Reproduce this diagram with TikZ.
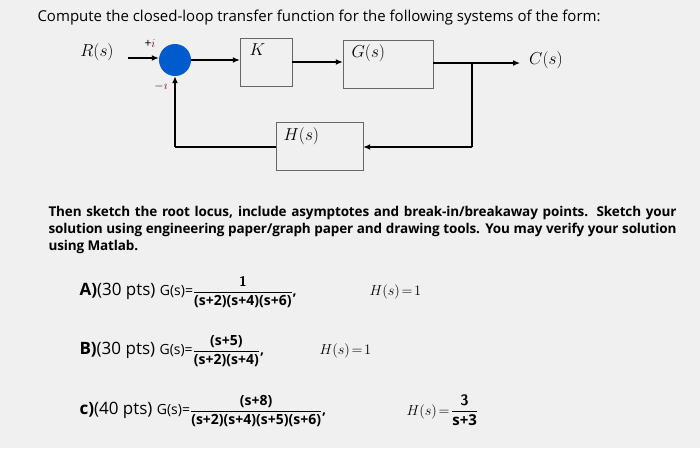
\documentclass[tikz,border=0pt]{standalone}
\usepackage{amsmath}
\usepackage{fontspec}
\setmainfont{Open Sans}
\usetikzlibrary{arrows.meta}
\begin{document}
\begin{tikzpicture}[x=1pt,y=-1pt,
 sig/.style={line width=1.3pt,-{Latex[length=7pt,width=6pt]}},
 wire/.style={line width=1.3pt},
 lbl/.style={anchor=north west,font=\fontsize{17}{19}\selectfont},
 part/.style={anchor=west,font=\fontsize{17}{19}\selectfont},
 hh/.style={anchor=west,font=\fontsize{15}{17}\selectfont}]
\fill[gray!12] (0,0) rectangle (700,448);
\useasboundingbox (0,0) rectangle (700,448);
\node[anchor=west,font=\fontsize{15}{17}\selectfont] (title) at (34,18) {Compute the closed-loop transfer function for the following systems of the form:};
% diagram
\node[circle,fill=blue!55!cyan!80!black,minimum size=32pt,inner sep=0pt] (sum) at (175,60) {};
\node[draw=black!60,minimum width=52pt,minimum height=48pt] (K) at (266,62) {};
\node[lbl] (Kl) at (246,40) {$K$};
\node[draw=black!60,minimum width=90pt,minimum height=48pt] (G) at (388,64) {};
\node[lbl] (Gl) at (348,41) {$G(s)$};
\node[draw=black!60,minimum width=87pt,minimum height=48pt] (H) at (319.5,146) {};
\node[lbl] (Hl) at (280,124) {$H(s)$};
\node[font=\fontsize{17}{19}\selectfont] (R) at (97,52) {$R(s)$};
\node[font=\fontsize{17}{19}\selectfont] (C) at (546,60) {$C(s)$};
\node[font=\fontsize{12}{14}\selectfont] (plus) at (150,44) {+\textcolor{red!60!black}{$i$}};
\node[font=\fontsize{12}{14}\selectfont] (minus) at (161,86) {$-$\textcolor{red!60!black}{$\imath$}};
\coordinate (in) at (128,58);
\coordinate (out) at (520,63);
\coordinate (br) at (472,63);
\coordinate (brd) at (472,147);
\coordinate (fl) at (175,147);
\draw[sig] (in) -- (sum.west|-in);
\draw[sig] (sum.east) -- (K.west|-sum.east);
\draw[sig] (K.east) -- (G.west|-K.east);
\draw[sig] (G.east|-out) -- (out);
\draw[wire] (br) -- (brd);
\draw[sig] (brd) -- (H.east|-brd);
\draw[wire] (H.west|-fl) -- (fl);
\draw[sig] (fl) -- (sum.south);
% text
\node[anchor=north west,text width=628pt,align=justify,font=\fontsize{13.5}{17}\selectfont\bfseries] (para) at (45,203) {\addfontfeature{LetterSpace=-1}Then sketch the root locus, include asymptotes and break-in/breakaway points. Sketch your solution using engineering paper/graph paper and drawing tools. You may verify your solution using Matlab.};
\node[part] (A) at (76,292) {\textbf{A)}(30 \textsc{pts}) \fontsize{14}{16}\selectfont G(s)=$\dfrac{\textsf{\bfseries 1}}{\text{\bfseries (s+2)(s+4)(s+6)}}$\textbf{,}};
\node[hh] (HA) at (366,292) {$H(s)\!=\!1$};
\node[part] (B) at (76,351) {\textbf{B)}(30 \textsc{pts}) \fontsize{14}{16}\selectfont G(s)=$\dfrac{\text{\bfseries (s+5)}}{\text{\bfseries (s+2)(s+4)}}$\textbf{,}};
\node[hh] (HB) at (316,351) {$H(s)\!=\!1$};
\node[part] (Cc) at (76,411) {\textbf{c)}(40 \textsc{pts}) \fontsize{14}{16}\selectfont G(s)=$\dfrac{\text{\bfseries (s+8)}}{\text{\bfseries (s+2)(s+4)(s+5)(s+6)}}$\textbf{,}};
\node[hh] (HC) at (403,410) {$H(s)\!=\!\dfrac{\textsf{\bfseries 3}}{\text{\bfseries s+3}}$};
\end{tikzpicture}
\end{document}
